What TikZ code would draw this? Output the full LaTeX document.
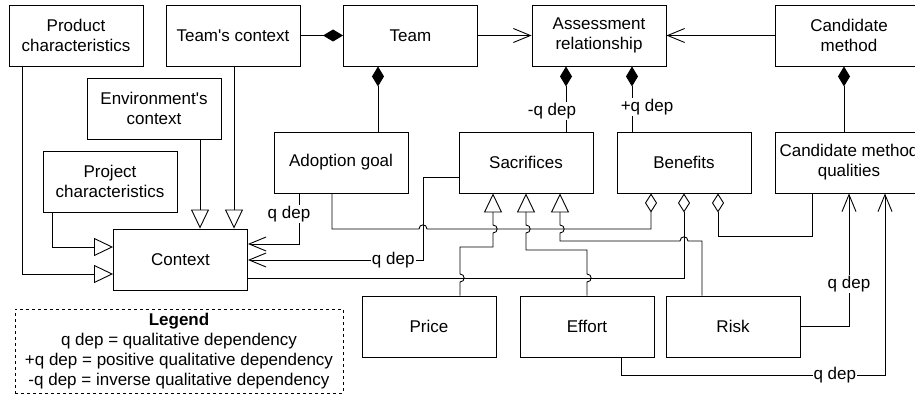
\documentclass[tikz,border=0pt]{standalone}
\usepackage{fontspec}
\setmainfont{Liberation Sans}
\usetikzlibrary{arrows.meta}
\newcommand{\hop}[3]{-- ({#1-(#3)},#2) .. controls ({#1-(#3)},#2-5.5) and ({#1+(#3)},#2-5.5) .. ({#1+(#3)},#2)}
\newcommand{\vhop}[2]{-- (#1,#2+4) .. controls (#1+5.5,#2+4) and (#1+5.5,#2-4) .. (#1,#2-4)}
\begin{document}
\begin{tikzpicture}[x=1pt,y=-1pt,line width=0.9pt,font=\fontsize{17}{20}\selectfont,
	box/.style={draw,minimum width=134pt,minimum height=61pt,align=center,inner sep=2pt},
	lbl/.style={fill=white,inner sep=1pt},
	comp/.style={-{Diamond[length=20pt,width=12pt]}},
	agg/.style={-{Diamond[open,length=19pt,width=12pt]}},
	gen/.style={-{Triangle[open,length=19pt,width=18pt]}},
	assoc/.style={-{Straight Barb[length=17pt,width=14pt]}}]
	\useasboundingbox (0,0) rectangle (915,398);
	
	\node[box] (prod) at (76,35.5) {Product\\characteristics};
	\node[box] (tctx) at (233,35.5) {Team\textquotesingle s context};
	\node[box] (team) at (410.5,35.5) {Team};
	\node[box] (assess) at (599,35.5) {Assessment\\relationship};
	\node[box,minimum width=148pt] (cand) at (849,35.5) {Candidate\\method};
	\node[box] (env) at (154,108.5) {Environment\textquotesingle s\\context};
	\node[box] (proj) at (110,181.5) {Project\\characteristics};
	\node[box] (goal) at (341,162.5) {Adoption goal};
	\node[box] (sacr) at (526,162.5) {Sacrifices};
	\node[box] (bene) at (684,162.5) {Benefits};
	\node[box,minimum width=148pt] (qual) at (849,162.5) {Candidate method\\qualities};
	\node[box] (ctx) at (180.5,259.5) {Context};
	\node[box] (price) at (429,326.5) {Price};
	\node[box] (effort) at (587,326.5) {Effort};
	\node[box] (risk) at (733,326.5) {Risk};
	\node[draw,dashed,minimum width=328pt,minimum height=84pt,align=center,inner sep=1pt] (legend) at (179,351) {\textbf{Legend}\\q dep = qualitative dependency\\+q dep = positive qualitative dependency\\-q dep = inverse qualitative dependency};
	
	\draw[comp] (tctx) -- (team);
	\draw[comp] (goal.north -| 378,0) -- (team.south -| 378,0);
	\draw[assoc] (team) -- (assess);
	\draw[assoc] (cand) -- (assess);
	\draw[comp] (sacr.north -| 566,0) -- node[lbl,pos=0.31,xshift=-14pt]{-q dep} (assess.south -| 566,0);
	\draw[comp] (bene.north -| 632,0) -- node[lbl,pos=0.38,xshift=15pt]{+q dep} (assess.south -| 632,0);
	\draw[comp] (qual.north -| 844,0) -- (cand.south -| 844,0);
	
	\draw[gen] (tctx.south -| 234,0) -- (ctx.north -| 234,0);
	\draw[gen] (env.south -| 200,0) -- (ctx.north -| 200,0);
	\draw[gen] (prod.south -| 22,0) |- (ctx.west |- 0,274);
	\draw[gen] (proj.south -| 52,0) |- (ctx.west |- 0,247);
	\draw[assoc] (goal.south -| 299,0) |- node[lbl,pos=0.2,xshift=-10pt]{q dep} (ctx.east |- 0,244);
	\draw[assoc] (sacr.west |- 0,177) -| (423,260) -- node[lbl,pos=0.17]{q dep} (ctx.east |- 0,260);
	
	\draw[agg] (goal.south -| 332,0) -- (332,229) \hop{423}{229}{4} -| (bene.south -| 651,0);
	\draw[agg] (ctx.east |- 0,278) -| (bene.south -| 684,0);
	\draw[agg] (qual.south -| 812,0) -- (812,236) -| (bene.south -| 718,0);
	
	\draw[gen] (price.north -| 460,0) \vhop{460}{278} -- (460,247) -- (493,247) \vhop{493}{229} -- (sacr.south -| 493,0);
	\draw[gen] (effort.north) \vhop{587}{278} -- (587,250) -- (526,250) \vhop{526}{229} -- (sacr.south);
	\draw[gen] (risk.north -| 702,0) -- (702,241) \hop{684}{241}{-4} -- (560,241) \vhop{560}{229} -- (sacr.south -| 560,0);
	
	\draw[assoc] (risk.east) -| node[lbl,pos=0.66]{q dep} (qual.south -| 849,0);
	\draw[assoc] (effort.south -| 621,0) -- (621,375) -| node[lbl,pos=0.405]{q dep} (qual.south -| 885,0);
\end{tikzpicture}
\end{document}
